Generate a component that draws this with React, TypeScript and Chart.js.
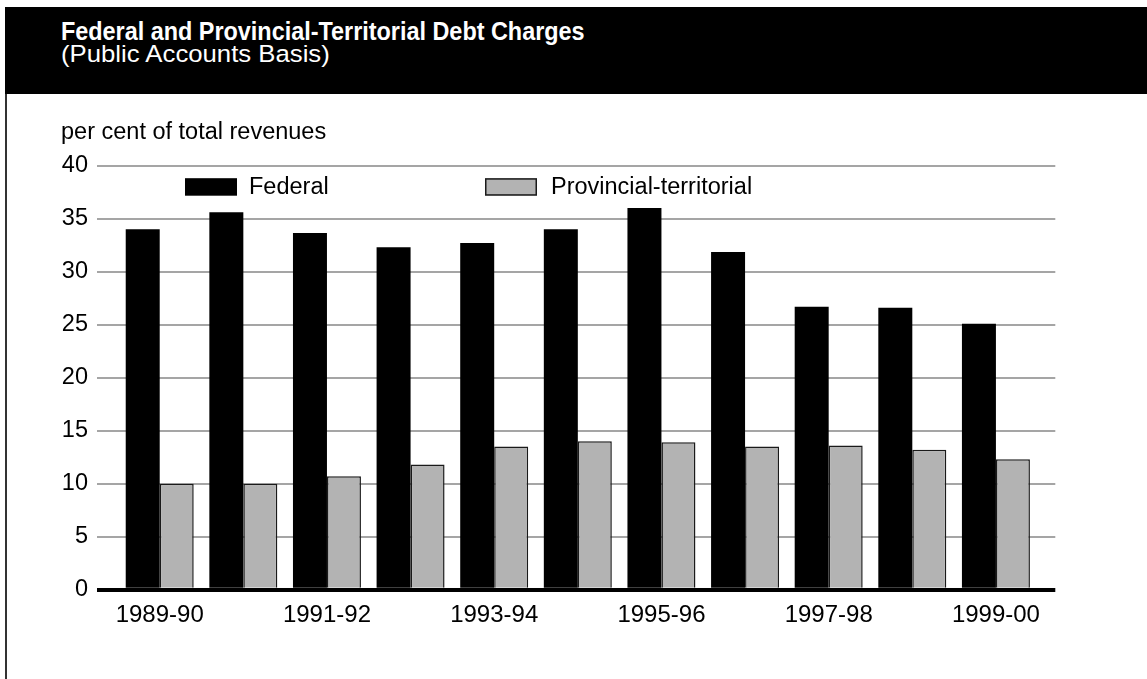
import React, { useEffect, useRef } from "react";
import { Chart, registerables } from "chart.js";

Chart.register(...registerables);

const categories = [
  "1989-90", "1990-91", "1991-92", "1992-93", "1993-94", "1994-95",
  "1995-96", "1996-97", "1997-98", "1998-99", "1999-00",
];
const federal = [34.0, 35.6, 33.65, 32.3, 32.7, 34.0, 36.0, 31.85, 26.7, 26.6, 25.1];
const provincial = [10.0, 10.0, 10.7, 11.8, 13.5, 14.0, 13.9, 13.5, 13.6, 13.2, 12.3];
const labeledCategoryIndexes = [0, 2, 4, 6, 8, 10];
const yTickValues = [0, 5, 10, 15, 20, 25, 30, 35, 40];

const titleText = "Federal and Provincial-Territorial Debt Charges";
const subtitleText = "(Public Accounts Basis)";
const yAxisTitle = "per cent of total revenues";
const seriesNames = ["Federal", "Provincial-territorial"];

const FONT = '"Liberation Sans", Arial, Helvetica, sans-serif';

const legendPlugin = {
  id: "customLegend",
  afterDraw(chart: any) {
    const { ctx, chartArea } = chart;
    const offsets = [88, 388];
    const gaps = [12, 14];
    ctx.save();
    chart.data.datasets.forEach((ds: any, i: number) => {
      const x = chartArea.left + offsets[i];
      const y = chartArea.top + 12.5;
      const w = 52;
      const h = 17.5;
      ctx.fillStyle = ds.backgroundColor;
      ctx.fillRect(x, y, w, h);
      if (ds.borderWidth) {
        ctx.lineWidth = 1.5;
        ctx.strokeStyle = ds.borderColor;
        ctx.strokeRect(x + 0.75, y + 0.75, w - 1.5, h - 1.5);
      }
      ctx.fillStyle = "#000";
      ctx.font = `23.5px ${FONT}`;
      ctx.textBaseline = "middle";
      ctx.textAlign = "left";
      ctx.fillText(ds.label, x + w + gaps[i], y + h / 2 + 1);
    });
    ctx.restore();
  },
};

const yTitlePlugin = {
  id: "yTitle",
  afterDraw(chart: any) {
    const { ctx, chartArea } = chart;
    ctx.save();
    ctx.fillStyle = "#000";
    ctx.font = `23.5px ${FONT}`;
    ctx.textBaseline = "alphabetic";
    ctx.textAlign = "left";
    ctx.fillText(yAxisTitle, chartArea.left - 36, chartArea.top - 27);
    ctx.restore();
  },
};

export default function App() {
  const canvasRef = useRef<HTMLCanvasElement | null>(null);

  useEffect(() => {
    document.body.style.margin = "0";
    const canvas = canvasRef.current;
    if (!canvas) return;
    const chart = new Chart(canvas, {
      type: "bar",
      data: {
        datasets: [
          {
            label: seriesNames[0],
            data: federal.map((v, i) => ({ x: i, y: v })),
            backgroundColor: "#000000",
            borderWidth: 0,
            categoryPercentage: 0.813,
            barPercentage: 1.0,
          },
          {
            label: seriesNames[1],
            data: provincial.map((v, i) => ({ x: i, y: v })),
            backgroundColor: "#b3b3b3",
            borderColor: "#1a1a1a",
            borderWidth: 1.5,
            categoryPercentage: 0.813,
            barPercentage: 1.0,
          },
        ],
      },
      options: {
        animation: false,
        responsive: false,
        maintainAspectRatio: false,
        layout: { padding: { left: 0, right: 91.7, top: 71.7, bottom: 0 } },
        plugins: {
          legend: { display: false },
          title: { display: false },
          tooltip: { enabled: false },
        },
        scales: {
          x: {
            type: "linear",
            offset: false,
            min: -0.75,
            max: 10.71,
            grid: { display: false },
            border: { display: false },
            afterBuildTicks: (scale: any) => {
              scale.ticks = labeledCategoryIndexes.map((v) => ({ value: v }));
            },
            afterFit: (scale: any) => {
              scale.height = 89.3;
            },
            ticks: {
              autoSkip: false,
              maxRotation: 0,
              padding: 3,
              color: "#000",
              font: { family: FONT, size: 24 },
              callback: (v: any) => categories[v as number],
            },
          },
          y: {
            min: 0,
            max: 40,
            afterBuildTicks: (scale: any) => {
              scale.ticks = yTickValues.map((v) => ({ value: v }));
            },
            afterFit: (scale: any) => {
              scale.width = 90;
            },
            border: { display: false },
            grid: {
              drawTicks: false,
              color: (c: any) => (c.tick && c.tick.value === 0 ? "#000" : "#a5a5a5"),
              lineWidth: (c: any) => (c.tick && c.tick.value === 0 ? 4 : 2),
            },
            ticks: {
              padding: 9,
              color: "#000",
              font: { family: FONT, size: 23.5 },
            },
          },
        },
      },
      plugins: [legendPlugin, yTitlePlugin],
    } as any);
    return () => chart.destroy();
  }, []);

  return (
    <div style={{ position: "relative", width: 1147, height: 679, background: "#fff", overflow: "hidden" }}>
      <div
        style={{
          position: "absolute",
          left: 5,
          top: 7,
          width: 1142,
          height: 87,
          background: "#000",
          color: "#fff",
        }}
      >
        <div
          style={{
            position: "absolute",
            left: 56,
            top: 10,
            fontFamily: '"Liberation Sans Narrow", "Arial Narrow", "Liberation Sans", Arial, sans-serif',
            fontWeight: "bold",
            fontSize: 26,
            lineHeight: "28px",
            whiteSpace: "nowrap",
            transform: "scaleX(0.9)",
            transformOrigin: "0 0",
          }}
        >
          {titleText}
        </div>
        <div
          style={{
            position: "absolute",
            left: 56,
            top: 33,
            fontFamily: FONT,
            fontSize: 24.5,
            lineHeight: "27px",
            whiteSpace: "nowrap",
            transform: "scaleX(1.05)",
            transformOrigin: "0 0",
          }}
        >
          {subtitleText}
        </div>
      </div>
      <div style={{ position: "absolute", left: 5, top: 94, width: 2, height: 585, background: "#333" }} />
      <canvas
        ref={canvasRef}
        width={1140}
        height={585}
        style={{ position: "absolute", left: 7, top: 94, width: 1140, height: 585 }}
      />
    </div>
  );
}
